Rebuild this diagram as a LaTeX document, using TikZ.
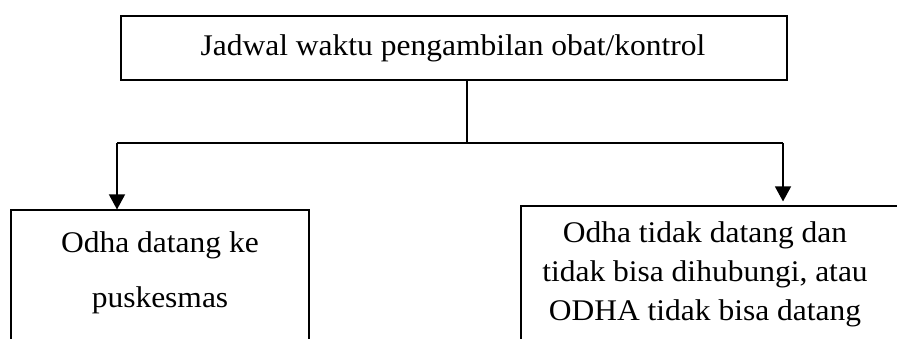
\documentclass[tikz,border=0pt]{standalone}
\usepackage{fontspec}
\setmainfont{Liberation Serif}[FakeStretch=1.05]
\usetikzlibrary{arrows.meta}
\begin{document}
\begin{tikzpicture}[x=1pt,y=-1pt,
  boxstyle/.style={draw=black,line width=1.1pt,rectangle,inner sep=0pt},
  txt/.style={anchor=base,inner sep=0pt,font=\fontsize{30}{36}\selectfont},
  conn/.style={draw=black,line width=1.3pt},
  arr/.style={conn,-{Triangle[width=16pt,length=15pt]}}]
\useasboundingbox (0,0) rectangle (897,338);
% boxes
\node[boxstyle,minimum width=666pt,minimum height=64pt] (top) at (454,48) {};
\node[boxstyle,minimum width=298pt,minimum height=170pt] (left) at (160,295) {};
\node[boxstyle,minimum width=400pt,minimum height=170pt] (right) at (721,291) {};
% texts
\node[txt] (t0) at (453,55) {Jadwal waktu pengambilan obat/kontrol};
\node[txt] (l1) at (160,252.7) {Odha datang ke};
\node[txt] (l2) at (160,307) {puskesmas};
\node[txt] (r1) at (705,242) {Odha tidak datang dan};
\node[txt] (r2) at (705,281) {tidak bisa dihubungi, atau};
\node[txt] (r3) at (705,320) {ODHA tidak bisa datang};
% connectors
\coordinate (split) at (467,143);
\coordinate (lt) at (117,143);
\coordinate (rt) at (783,143);
\draw[conn] (top.south -| split) -- (split);
\draw[conn] (lt) -- (rt);
\draw[arr] (lt) -- (lt |- left.north);
\draw[arr] (rt) -- ([yshift=4pt]rt |- right.north);
\end{tikzpicture}
\end{document}
